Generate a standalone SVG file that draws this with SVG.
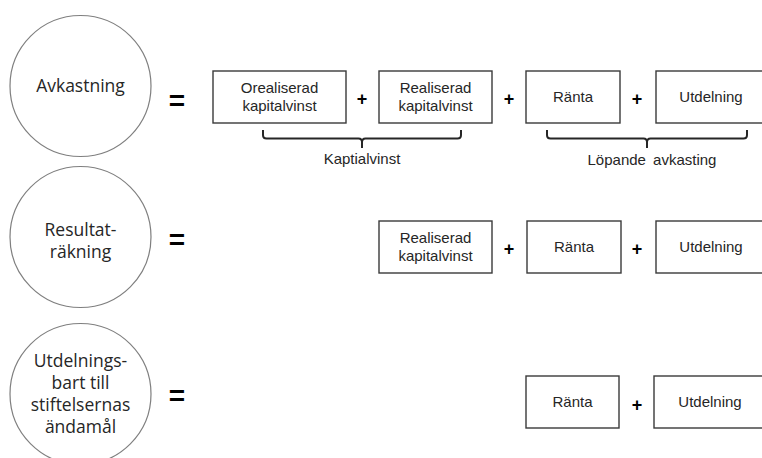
<svg xmlns="http://www.w3.org/2000/svg" width="762" height="458" viewBox="0 0 762 458">
<style>
.circ{fill:#fff;stroke:#7f7f7f;stroke-width:1.2}
.ct{font-family:"Open Sans","Noto Sans",sans-serif;font-size:17.5px;fill:#262626;text-anchor:middle}
.box{fill:#fff;stroke:#3a3a3a;stroke-width:1.4}
.bt{font-family:"Liberation Sans",Arial,sans-serif;font-size:15px;fill:#262626;text-anchor:middle}
.eq{font-family:"Liberation Sans",Arial,sans-serif;font-size:28px;font-weight:bold;fill:#000;text-anchor:middle}
.pl{font-family:"Liberation Sans",Arial,sans-serif;font-size:18px;font-weight:bold;fill:#000;text-anchor:middle}
.br{fill:none;stroke:#262626;stroke-width:2}
</style>
<rect width="762" height="458" fill="#fff"/>
<g id="avkastning"><circle class="circ" cx="80.5" cy="86" r="70.5"/><text class="ct" x="80.5" y="92">Avkastning</text></g>
<g id="resultatrakning"><circle class="circ" cx="80.5" cy="237" r="70.5"/><text class="ct" x="80.5" y="236">Resultat-</text><text class="ct" x="80.5" y="258">räkning</text></g>
<g id="utdelningsbart"><circle class="circ" cx="80.5" cy="394" r="70.5"/><text class="ct" x="80.5" y="367">Utdelnings-</text><text class="ct" x="80.5" y="389">bart till</text><text class="ct" x="80.5" y="411">stiftelsernas</text><text class="ct" x="80.5" y="433">ändamål</text></g>
<g id="operators">
<text class="eq" x="177" y="110">=</text>
<text class="eq" x="177" y="249">=</text>
<text class="eq" x="177" y="405">=</text>
<text class="pl" x="362" y="105">+</text>
<text class="pl" x="509" y="105">+</text>
<text class="pl" x="637" y="105">+</text>
<text class="pl" x="509" y="255">+</text>
<text class="pl" x="637" y="255">+</text>
<text class="pl" x="637" y="411">+</text>
</g>
<g id="r1-orealiserad"><rect class="box" x="213" y="71" width="133" height="52"/><text class="bt" x="279.5" y="93">Orealiserad</text><text class="bt" x="279.5" y="111">kapitalvinst</text></g>
<g id="r1-realiserad"><rect class="box" x="379" y="71" width="113" height="52"/><text class="bt" x="435.5" y="93">Realiserad</text><text class="bt" x="435.5" y="111">kapitalvinst</text></g>
<g id="r1-ranta"><rect class="box" x="526" y="71" width="94" height="52"/><text class="bt" x="573" y="102">Ränta</text></g>
<g id="r1-utdelning"><rect class="box" x="656" y="71" width="110" height="52"/><text class="bt" x="711" y="102">Utdelning</text></g>
<g id="r2-realiserad"><rect class="box" x="379" y="221" width="113" height="52"/><text class="bt" x="435.5" y="243">Realiserad</text><text class="bt" x="435.5" y="261">kapitalvinst</text></g>
<g id="r2-ranta"><rect class="box" x="527" y="221" width="94" height="52"/><text class="bt" x="574" y="252">Ränta</text></g>
<g id="r2-utdelning"><rect class="box" x="656" y="221" width="110" height="52"/><text class="bt" x="711" y="252">Utdelning</text></g>
<g id="r3-ranta"><rect class="box" x="526" y="376" width="93" height="52"/><text class="bt" x="572.5" y="407">Ränta</text></g>
<g id="r3-utdelning"><rect class="box" x="654" y="376" width="112" height="52"/><text class="bt" x="710" y="407">Utdelning</text></g>
<g id="connectors">
<path class="br" d="M263,130 V135 Q263,138.5 266.5,138.5 H358.5 Q362,138.5 362,142 V148 M362,142 Q362,138.5 365.5,138.5 H457.5 Q461,138.5 461,135 V130"/>
<path class="br" d="M547,130 V135 Q547,138.5 550.5,138.5 H643.5 Q647,138.5 647,142 V148 M647,142 Q647,138.5 650.5,138.5 H743.5 Q747,138.5 747,135 V130"/>
</g>
<g id="labels">
<text class="bt" x="362" y="164">Kaptialvinst</text>
<text class="bt" x="652" y="165" word-spacing="3">Löpande avkasting</text>
</g>
</svg>
